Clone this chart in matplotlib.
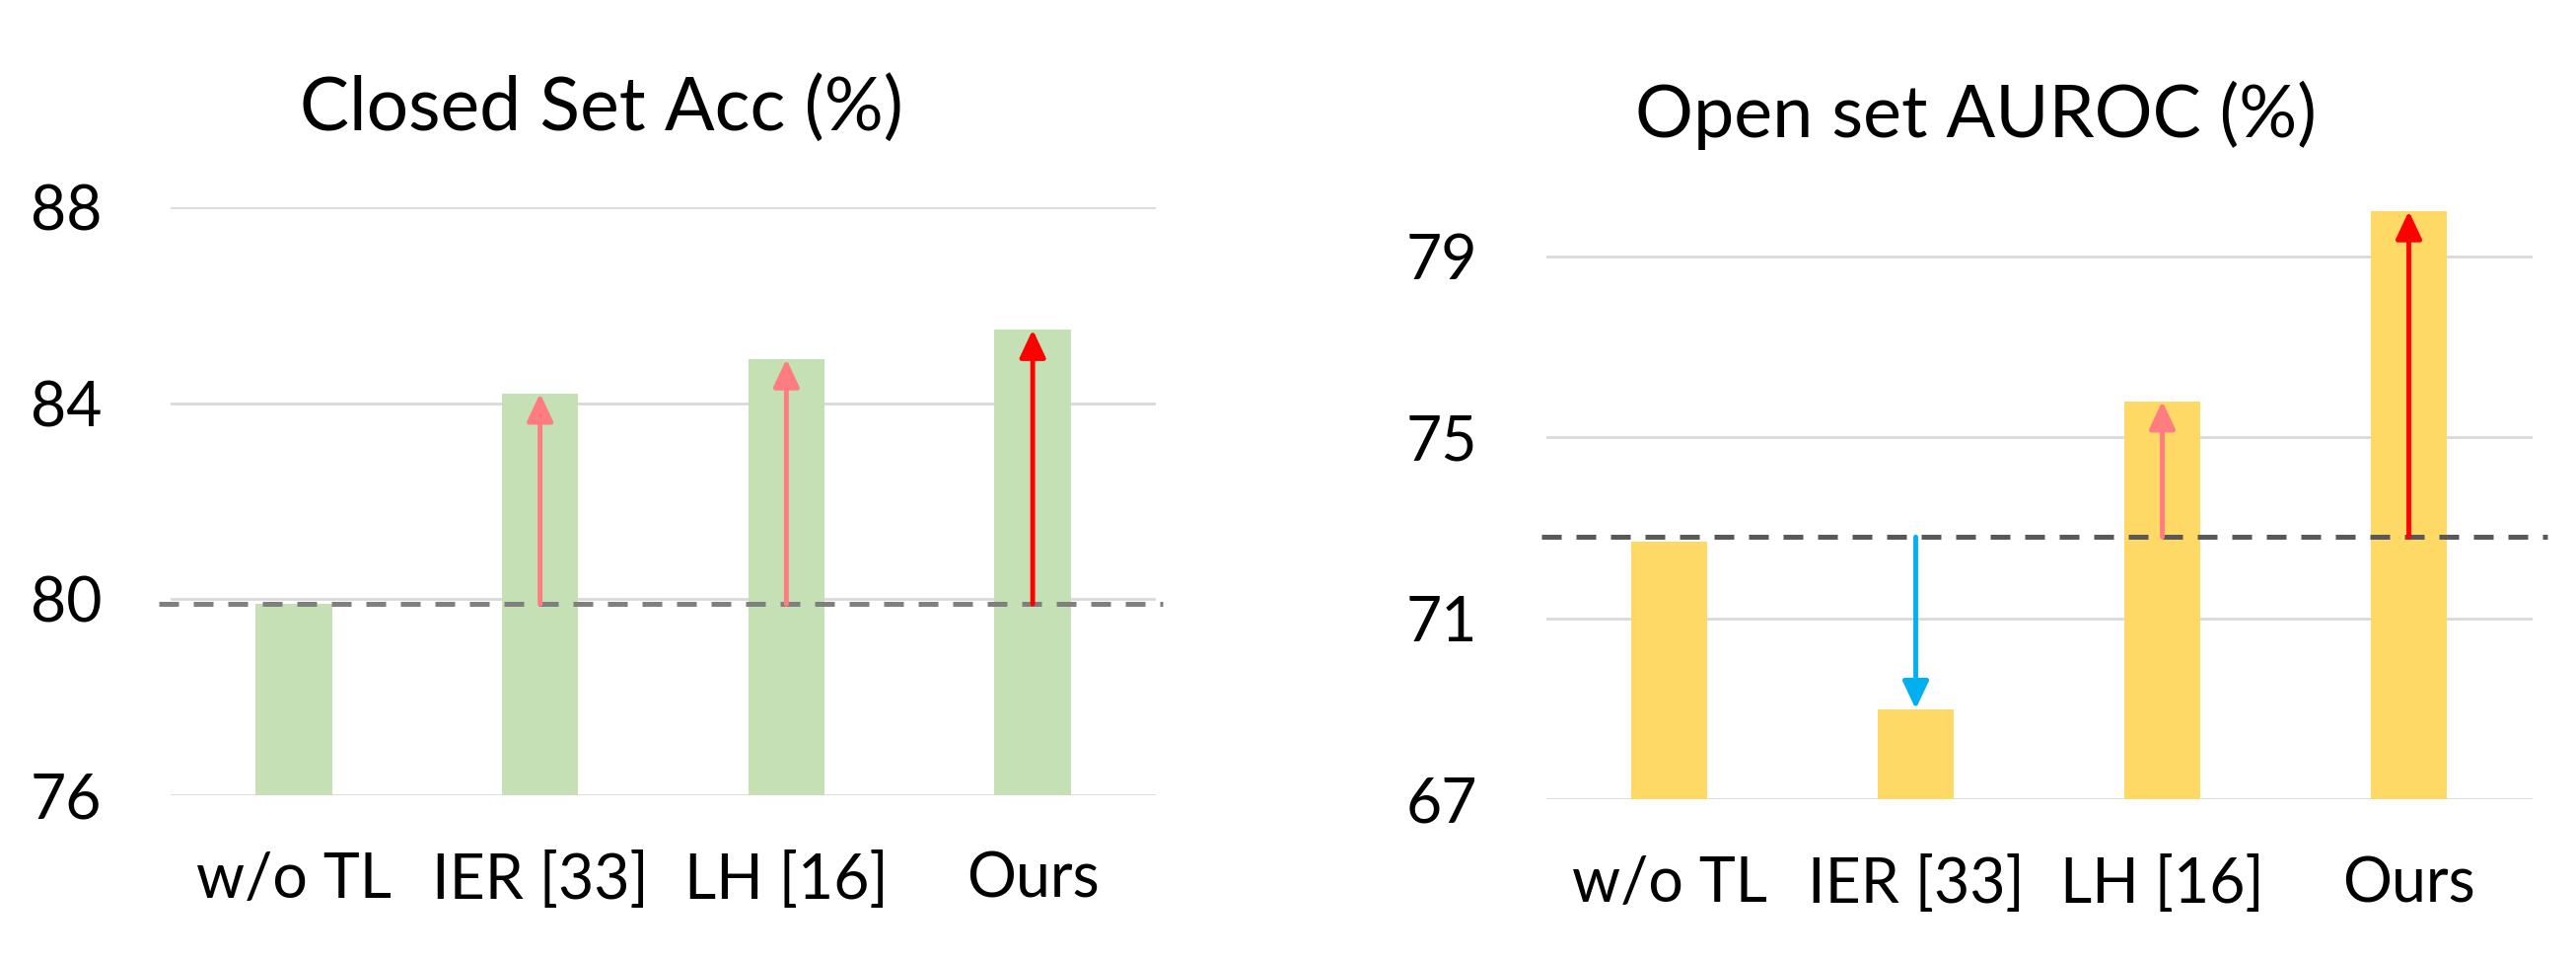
import matplotlib.pyplot as plt

plt.rcParams['font.family'] = ['Lato', 'DejaVu Sans']

methods = ['w/o TL', 'IER [33]', 'LH [16]', 'Ours']
closed_acc = [79.9, 84.2, 84.9, 85.5]
auroc = [72.7, 69.0, 75.8, 80.0]
closed_base = 79.9
auroc_base = 72.8
closed_ticks = [76, 80, 84, 88]
auroc_ticks = [67, 71, 75, 79]
closed_arrows = [None, '#FF7C80', '#FF7C80', '#FF0000']
auroc_arrows = [None, '#00B0F0', '#FF7C80', '#FF0000']


def draw_panel(ax, values, base, ticks, ylim, bar_color, dash_color, arrows, dash_x):
    x = range(len(values))
    ax.bar(x, [v - ylim[0] for v in values], bottom=ylim[0], width=0.31,
           color=bar_color, zorder=2)
    ax.set_xlim(-0.5, 3.5)
    ax.set_ylim(*ylim)
    ax.set_yticks(ticks)
    ax.set_xticks(list(x))
    ax.set_xticklabels(methods)
    ax.grid(axis='y', color='#D9D9D9', lw=2, zorder=0)
    ax.tick_params(axis='y', length=0, labelsize=45, pad=50)
    ax.tick_params(axis='x', length=0, labelsize=45, pad=41)
    for s in ax.spines.values():
        s.set_visible(False)
    ax.plot(dash_x, [base, base], color=dash_color, lw=3.6, dashes=(4, 3),
            zorder=3, clip_on=False)
    for i, c in enumerate(arrows):
        if c is None:
            continue
        ax.annotate('', xy=(i, values[i]), xytext=(i, base),
                    arrowprops=dict(arrowstyle='-|>,head_length=0.85,head_width=0.4',
                                    color=c, lw=3.5, shrinkA=0, shrinkB=0,
                                    mutation_scale=20),
                    zorder=4, annotation_clip=False)


fig = plt.figure(figsize=(26.12, 9.73), dpi=100)
ax1 = fig.add_axes([173 / 2612, 1 - 806 / 973, 999 / 2612, 596 / 973])
ax2 = fig.add_axes([1567.5 / 2612, 1 - 810.4 / 973, 1000 / 2612, 619.4 / 973])

draw_panel(ax1, closed_acc, closed_base, closed_ticks, (76, 88), '#C5E0B4',
           '#7F7F7F', closed_arrows, [-0.548, 3.528])
draw_panel(ax2, auroc, auroc_base, auroc_ticks, (67, 80.5), '#FFD966',
           '#595959', auroc_arrows, [-0.518, 3.56])

fig.text(610 / 2612, 1 - 132 / 973, 'Closed Set Acc (%)', fontsize=54,
         ha='center', va='baseline')
fig.text(2003 / 2612, 1 - 139 / 973, 'Open set AUROC (%)', fontsize=53,
         ha='center', va='baseline')

fig.savefig('out.png', dpi=100)
